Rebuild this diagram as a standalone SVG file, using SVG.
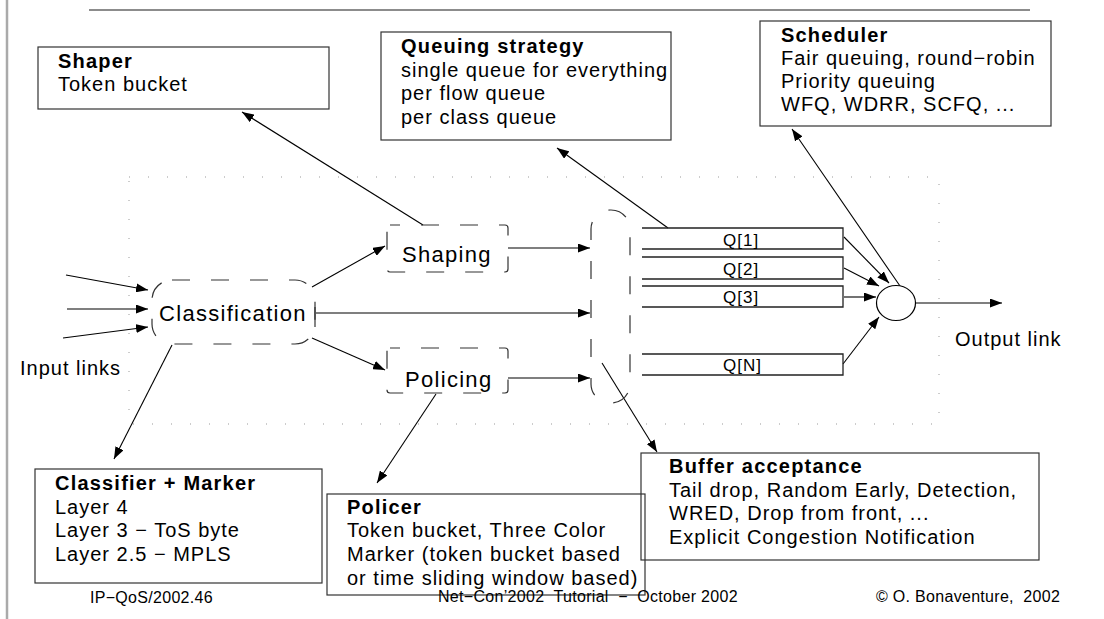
<svg xmlns="http://www.w3.org/2000/svg" width="1104" height="619" viewBox="0 0 1104 619">
<defs>
<marker id="ah" markerWidth="13" markerHeight="9" refX="12" refY="4.5" orient="auto" markerUnits="userSpaceOnUse">
<path d="M0,0 L12,4.5 L0,9 z" fill="#000"/>
</marker>
<style>
text{font-family:"Liberation Sans",Arial,sans-serif;fill:#000}
.t{font-size:20px;letter-spacing:1px}
.b{font-size:20px;font-weight:bold;letter-spacing:1.2px}
.n{font-size:22px;letter-spacing:1.3px}
.q{font-size:17px;letter-spacing:1px}
.f{font-size:16px;letter-spacing:0.3px;white-space:pre}
.box{fill:none;stroke:#333;stroke-width:1.2}
.dash{fill:none;stroke:#333;stroke-width:1.2;stroke-dasharray:18 21}
.c{stroke:#000;stroke-width:1.1;fill:none;marker-end:url(#ah)}
.qb{fill:none;stroke:#222;stroke-width:1.3}
</style>
</defs>
<rect width="1104" height="619" fill="#fff"/>
<g id="frame">
<line x1="7" y1="0" x2="7" y2="619" stroke="#aaa" stroke-width="2.5"/>
<line x1="89" y1="10" x2="1030" y2="10" stroke="#666" stroke-width="1.5"/>
<rect x="129" y="177" width="810" height="247" fill="none" stroke="#999" stroke-width="1" stroke-dasharray="1 18"/>
</g>
<g id="connectors">
<line class="c" x1="66" y1="275" x2="148" y2="290"/>
<line class="c" x1="67" y1="309" x2="148" y2="309"/>
<line class="c" x1="63" y1="338" x2="148" y2="327"/>
<line class="c" x1="312" y1="287" x2="385" y2="246"/>
<line class="c" x1="316" y1="313" x2="590" y2="313"/>
<line class="c" x1="312" y1="338" x2="385" y2="370"/>
<line class="c" x1="508" y1="248" x2="590" y2="248"/>
<line class="c" x1="508" y1="378" x2="590" y2="378"/>
<line class="c" x1="423" y1="225" x2="242" y2="112"/>
<line class="c" x1="668" y1="228" x2="557" y2="148"/>
<line class="c" x1="900" y1="286" x2="792" y2="129"/>
<line class="c" x1="172" y1="345" x2="114" y2="459"/>
<line class="c" x1="436" y1="394" x2="377" y2="483"/>
<line class="c" x1="602" y1="363" x2="657" y2="452"/>
<line class="c" x1="844" y1="237" x2="889" y2="283"/>
<line class="c" x1="844" y1="268" x2="879" y2="286"/>
<line class="c" x1="844" y1="297" x2="876" y2="297"/>
<line class="c" x1="843" y1="364" x2="879" y2="317"/>
<line class="c" x1="916" y1="303" x2="1002" y2="303"/>
</g>
<g id="input-links"><text class="t" x="20" y="375" letter-spacing="0.7">Input links</text></g>
<g id="classification">
<rect class="dash" x="152" y="280" width="163" height="64" rx="20"/>
<line x1="315" y1="307" x2="315" y2="327" stroke="#333" stroke-width="1.2"/>
<text class="n" x="159" y="321">Classification</text>
</g>
<g id="shaping">
<rect class="dash" x="387" y="225" width="121" height="47" rx="3" stroke-dashoffset="8"/>
<text class="n" x="402" y="262">Shaping</text>
</g>
<g id="policing">
<rect class="dash" x="387" y="348" width="121" height="45" rx="3" stroke-dashoffset="8"/>
<text class="n" x="405" y="387">Policing</text>
</g>
<g id="buffer">
<rect class="dash" x="591" y="210" width="39" height="193" rx="19"/>
</g>
<g id="queues">
<path class="qb" d="M642,228 H843 V249 H642"/>
<text class="q" x="723" y="246">Q[1]</text>
<path class="qb" d="M642,257 H843 V279 H642"/>
<text class="q" x="723" y="275">Q[2]</text>
<path class="qb" d="M642,286 H843 V307 H642"/>
<text class="q" x="723" y="303">Q[3]</text>
<path class="qb" d="M642,354 H843 V375 H642"/>
<text class="q" x="723" y="371">Q[N]</text>
</g>
<g id="scheduler-node">
<ellipse cx="896" cy="303" rx="19.5" ry="17.5" fill="#fff" stroke="#000" stroke-width="1.2"/>
</g>
<g id="output-link"><text class="t" x="955" y="346">Output link</text></g>
<g id="shaper">
<rect class="box" x="38" y="47" width="291" height="62"/>
<text class="b" x="58" y="68">Shaper</text>
<text class="t" x="58" y="91">Token bucket</text>
</g>
<g id="queuing-strategy">
<rect class="box" x="381" y="32" width="290" height="108"/>
<text class="b" x="401" y="53">Queuing strategy</text>
<text class="t" x="401" y="77">single queue for everything</text>
<text class="t" x="401" y="100">per flow queue</text>
<text class="t" x="401" y="124">per class queue</text>
</g>
<g id="scheduler">
<rect class="box" x="760" y="21" width="291" height="105"/>
<text class="b" x="781" y="42">Scheduler</text>
<text class="t" x="781" y="65">Fair queuing, round−robin</text>
<text class="t" x="781" y="88">Priority queuing</text>
<text class="t" x="781" y="111">WFQ, WDRR, SCFQ, ...</text>
</g>
<g id="classifier-marker">
<rect class="box" x="35" y="469" width="287" height="114"/>
<text class="b" x="55" y="490">Classifier + Marker</text>
<text class="t" x="55" y="514">Layer 4</text>
<text class="t" x="55" y="537">Layer 3 − ToS byte</text>
<text class="t" x="55" y="561">Layer 2.5 − MPLS</text>
</g>
<g id="policer">
<rect class="box" x="327" y="494" width="318" height="101"/>
<text class="b" x="347" y="514">Policer</text>
<text class="t" x="347" y="537">Token bucket, Three Color</text>
<text class="t" x="347" y="561">Marker (token bucket based</text>
<text class="t" x="347" y="585">or time sliding window based)</text>
</g>
<g id="buffer-acceptance">
<rect class="box" x="641" y="453" width="398" height="107"/>
<text class="b" x="669" y="473">Buffer acceptance</text>
<text class="t" x="669" y="497">Tail drop, Random Early, Detection,</text>
<text class="t" x="669" y="520">WRED, Drop from front, ...</text>
<text class="t" x="669" y="544">Explicit Congestion Notification</text>
</g>
<g id="footer">
<text class="f" x="90" y="603">IP−QoS/2002.46</text>
<text class="f" x="438" y="602">Net−Con’2002  Tutorial  −  October 2002</text>
<text class="f" x="876" y="602">© O. Bonaventure,  2002</text>
</g>
</svg>
